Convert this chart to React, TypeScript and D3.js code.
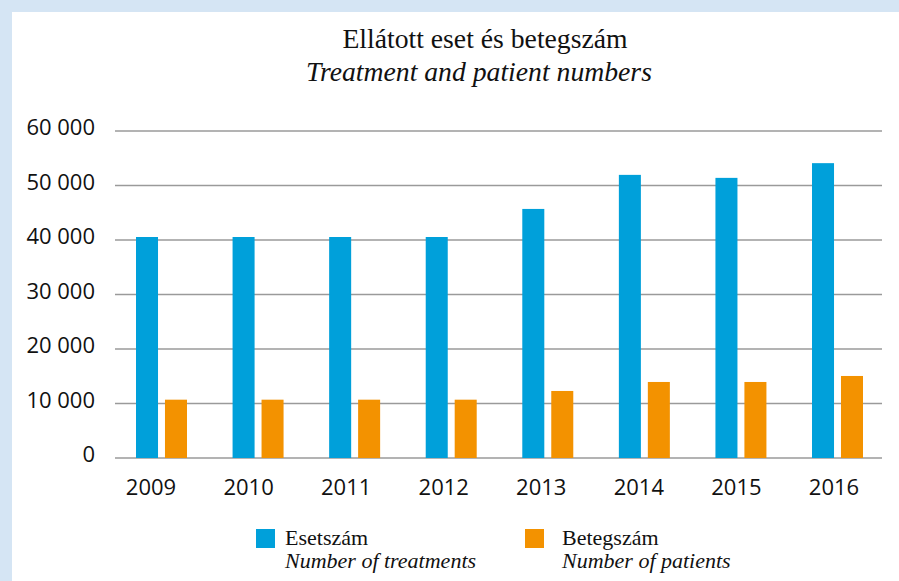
import React from "react";
import * as d3 from "d3";

const years = ["2009", "2010", "2011", "2012", "2013", "2014", "2015", "2016"];
const treatments = [40550, 40550, 40550, 40550, 45700, 51950, 51400, 54100];
const patients = [10700, 10700, 10700, 10700, 12300, 13950, 13950, 15050];
const yTicks = [0, 10000, 20000, 30000, 40000, 50000, 60000];
const seriesKeys = ["treatments", "patients"];

const W = 899;
const H = 581;
const BLUE = "#00a0da";
const ORANGE = "#f39200";
const SERIF = "'Liberation Serif', 'Times New Roman', serif";
const SANS = "'Open Sans', 'Noto Sans', sans-serif";

const fmt = (v: number) => d3.format(",")(v).replace(/,/g, " ");

export default function App() {
  const y = d3.scaleLinear().domain([0, 60000]).range([458, 131]);
  const x = d3.scaleBand().domain(years).range([136, 863]).paddingInner(0.472).paddingOuter(0);
  const xInner = d3.scaleBand().domain(seriesKeys).range([0, x.bandwidth()]).paddingInner(0.24);
  const xLabel = d3.scalePoint().domain(years).range([151, 834]);
  const colors = d3.scaleOrdinal<string>().domain(seriesKeys).range([BLUE, ORANGE]);
  const values: Record<string, number[]> = { treatments, patients };

  return (
    <svg width={W} height={H} style={{ position: "absolute", left: 0, top: 0 }}>
      <rect x={0} y={0} width={W} height={H} fill="#d5e5f4" />
      <rect x={12} y={12} width={W - 12} height={H - 12} fill="#ffffff" />

      <text x={485} y={48} textAnchor="middle" fontFamily={SERIF} fontSize={27.7} fill="#111">
        Ellátott eset és betegszám
      </text>
      <text x={479} y={81} textAnchor="middle" fontFamily={SERIF} fontStyle="italic" fontSize={27.7} fill="#111">
        Treatment and patient numbers
      </text>

      {yTicks.map((t) => (
        <g key={t}>
          <line x1={115} x2={882} y1={y(t)} y2={y(t)} stroke="#9a9a9a" strokeWidth={1.6} />
          <text x={95} y={y(t) + 4} textAnchor="end" fontFamily={SANS} fontSize={22} fill="#111">
            {fmt(t)}
          </text>
        </g>
      ))}

      {years.map((yr, i) => (
        <g key={yr} transform={`translate(${x(yr)},0)`}>
          {seriesKeys.map((k) => (
            <rect
              key={k}
              x={xInner(k)}
              y={y(values[k][i])}
              width={xInner.bandwidth()}
              height={y(0) - y(values[k][i])}
              fill={colors(k)}
            />
          ))}
        </g>
      ))}

      {years.map((yr) => (
        <text key={yr} x={xLabel(yr)} y={495} textAnchor="middle" fontFamily={SANS} fontSize={22} fill="#111">
          {yr}
        </text>
      ))}

      <g transform="translate(256,529)">
        <rect width={19} height={19} fill={BLUE} />
        <text x={29} y={16} fontFamily={SERIF} fontSize={22} fill="#111">Esetszám</text>
        <text x={29} y={39} fontFamily={SERIF} fontStyle="italic" fontSize={22} fill="#111">Number of treatments</text>
      </g>
      <g transform="translate(525,529)">
        <rect width={19} height={19} fill={ORANGE} />
        <text x={37} y={16} fontFamily={SERIF} fontSize={22} fill="#111">Betegszám</text>
        <text x={37} y={39} fontFamily={SERIF} fontStyle="italic" fontSize={22} fill="#111">Number of patients</text>
      </g>
    </svg>
  );
}
